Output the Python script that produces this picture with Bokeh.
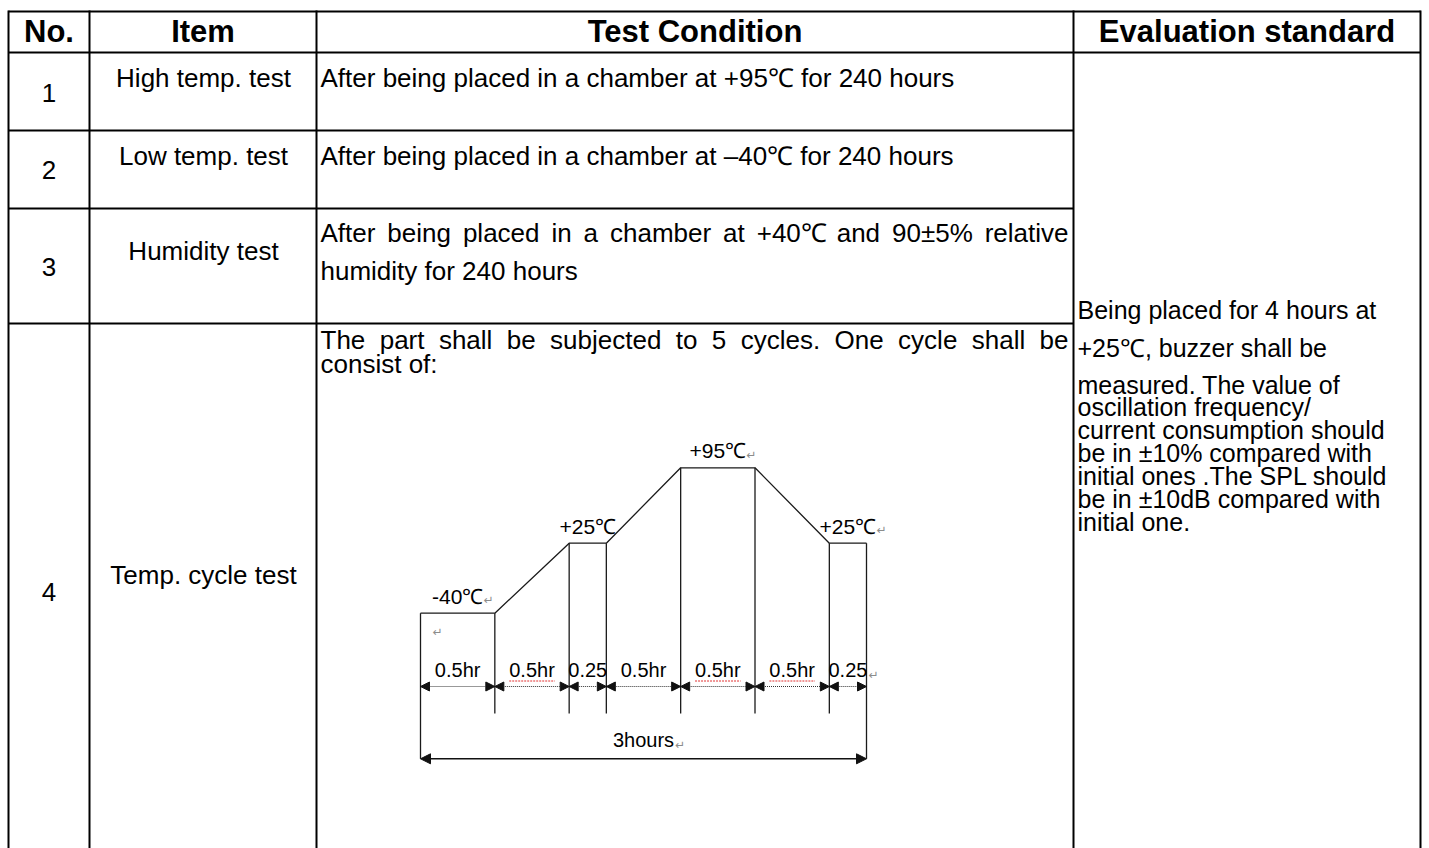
from bokeh.plotting import figure
from bokeh.models import Range1d, ColumnDataSource, Arrow, NormalHead
from bokeh.core.properties import value
from bokeh.embed import file_html
from bokeh.resources import INLINE
import numpy as np

# ---------------- data ----------------
header = ["No.", "Item", "Test Condition", "Evaluation standard"]
test_no = ["1", "2", "3", "4"]
test_items = ["High temp. test", "Low temp. test", "Humidity test", "Temp. cycle test"]
test_conditions = [
    ["After being placed in a chamber at +95℃ for 240 hours"],
    ["After being placed in a chamber at –40℃ for 240 hours"],
    ["After being placed in a chamber at +40℃ and 90±5% relative", "humidity for 240 hours"],
    ["The part shall be subjected to 5 cycles. One cycle shall be", "consist of:"],
]
evaluation_lines = [
    "Being placed for 4 hours at",
    "+25℃, buzzer shall be",
    "measured. The value of",
    "oscillation frequency/",
    "current consumption should",
    "be in ±10% compared with",
    "initial ones .The SPL should",
    "be in ±10dB compared with",
    "initial one.",
]
cycle_step_hours = [0.5, 0.5, 0.25, 0.5, 0.5, 0.5, 0.25]
cycle_step_labels = ["0.5hr", "0.5hr", "0.25", "0.5hr", "0.5hr", "0.5hr", "0.25"]
cycle_step_kind = ["hold", "ramp", "hold", "ramp", "hold", "ramp", "hold"]
cycle_boundary_temp = [-40, -40, 25, 25, 95, 95, 25, 25]
cycle_hold_labels = ["-40℃", "+25℃", "+95℃", "+25℃"]
cycle_total_label = "3hours"
spell_flagged = [False, True, False, False, True, True, False]
# Word paragraph marks visible in the source picture
hold_para_mark = [True, False, True, True]
step_para_mark = [False, False, False, False, False, False, True]

# ---------------- layout ----------------
W, H = 1429, 848
col_x = [8, 89, 316, 1073, 1420]
row_y = [11, 52, 130, 208, 323, 860]
FONT = value("Liberation Sans")
BODY = 26
BODY_PX = f"{BODY}px"
EVAL_PX = "25px"
TB = -1  # text placement correction (page px) for rendered glyph centre

# Arial-compatible advance widths (per 1000 em) for justification
AW = {" ": 278, "!": 278, "%": 889, "+": 584, ",": 278, "-": 333, ".": 278, "/": 278, ":": 278,
      "±": 549, "–": 556, "℃": 920}
for d in "0123456789":
    AW[d] = 556
AW.update(dict(A=667, B=667, C=722, D=722, E=667, F=611, G=778, H=722, I=278, L=556, M=833,
               N=722, O=778, P=667, S=667, T=611))
AW.update(dict(a=556, b=556, c=500, d=556, e=556, f=278, g=556, h=556, i=222, j=222, k=500,
               l=222, m=833, n=556, o=556, p=556, q=556, r=333, s=500, t=278, u=556, v=500,
               w=722, x=500, y=500, z=500))


def text_w(s, size):
    return sum(AW.get(ch, 556) for ch in s) / 1000.0 * size


def ys(lst):
    return [v + TB for v in lst]


p = figure(width=W, height=H, x_range=Range1d(0, W), y_range=Range1d(H, 0),
           output_backend="svg", toolbar_location=None, min_border=0,
           x_axis_location=None, y_axis_location=None)
p.grid.visible = False
p.outline_line_color = None
p.background_fill_color = "white"
p.border_fill_color = "white"

# ---- table rules ----
hx0 = [col_x[0]] * 5
hx1 = [col_x[-1], col_x[-1]] + [col_x[3]] * 3
hy = [row_y[0], row_y[1], row_y[2], row_y[3], row_y[4]]
p.segment(x0=hx0, y0=hy, x1=hx1, y1=hy, line_color="black", line_width=2)
p.segment(x0=col_x, y0=[row_y[0] - 1] * len(col_x), x1=col_x, y1=[row_y[-1]] * len(col_x),
          line_color="black", line_width=2)

# ---- header ----
centers = [(col_x[i] + col_x[i + 1]) / 2 for i in range(4)]
p.text(x=centers, y=ys([32] * 4), text=header, text_font=FONT, text_font_size="31px",
       text_font_style="bold", text_align="center", text_baseline="alphabetic", text_color="black")

# ---- No. and Item columns ----
p.text(x=[48.5] * 4, y=ys([93, 170, 267, 592]), text=test_no, text_font=FONT, text_font_size=BODY_PX,
       text_align="center", text_baseline="alphabetic", text_color="black")
p.text(x=[203] * 4, y=ys([78, 156, 251, 575]), text=test_items, text_font=FONT, text_font_size=BODY_PX,
       text_align="center", text_baseline="alphabetic", text_color="black")

# ---- Test condition column ----
cond_rows = [[78], [156], [233, 271], [340, 364]]
CX0, CX1 = 320, 1068
plain_x, plain_y, plain_t = [], [], []
jl_x, jl_y, jl_t, jr_x, jr_y, jr_t = [], [], [], [], [], []
for lines, bls in zip(test_conditions, cond_rows):
    for k, (ln, bl) in enumerate(zip(lines, bls)):
        bl = bl + TB
        if len(lines) > 1 and k < len(lines) - 1:
            words = ln.split(" ")
            ws = [text_w(w, BODY) for w in words]
            gap = (CX1 - CX0 - sum(ws)) / (len(words) - 1)
            x = CX0
            for j, (wd, wv) in enumerate(zip(words, ws)):
                if j == len(words) - 1:
                    jr_x.append(CX1); jr_y.append(bl); jr_t.append(wd)
                else:
                    jl_x.append(x); jl_y.append(bl); jl_t.append(wd)
                x += wv + gap
        else:
            plain_x.append(CX0); plain_y.append(bl); plain_t.append(ln)
p.text(x=plain_x + jl_x, y=plain_y + jl_y, text=plain_t + jl_t, text_font=FONT,
       text_font_size=BODY_PX, text_align="left", text_baseline="alphabetic", text_color="black")
p.text(x=jr_x, y=jr_y, text=jr_t, text_font=FONT, text_font_size=BODY_PX,
       text_align="right", text_baseline="alphabetic", text_color="black")

# ---- Evaluation column ----
ev_rows = [310, 348, 385, 407, 430, 453, 476, 499, 522]
p.text(x=[1077] * len(evaluation_lines), y=ys(ev_rows), text=evaluation_lines, text_font=FONT,
       text_font_size=EVAL_PX, text_align="left", text_baseline="alphabetic", text_color="black")

# ---------------- cycle diagram (own scales) ----------------
hrs_b = np.concatenate([[0.0], np.cumsum(cycle_step_hours)])
total = float(hrs_b[-1])
DX0, DX1 = 420.0, 866.0           # page x of 0 h and of the total
kx = (DX1 - DX0) / total
p.extra_x_ranges["hrs"] = Range1d(-DX0 / kx, total + (W - DX1) / kx)

tmin, tmax = min(cycle_boundary_temp), max(cycle_boundary_temp)
DY_LO, DY_HI = 612.7, 467.3       # page y of min / max temperature
ky = (DY_LO - DY_HI) / (tmax - tmin)
p.extra_y_ranges["temp"] = Range1d(tmin - (H - DY_LO) / ky, tmax + DY_HI / ky)


def temp_at(py):
    return tmin - (py - DY_LO) / ky


R = dict(x_range_name="hrs", y_range_name="temp")
LC = "#1a1a1a"
DSIZE = 20
DFONT = f"{DSIZE}px"
TSIZE = 21
MARK = dict(text_font=value("DejaVu Sans"), text_font_size="12px", text_color="#8c8c8c",
            text_align="left", text_baseline="alphabetic")

# profile
p.line(x=hrs_b, y=cycle_boundary_temp, line_color=LC, line_width=1.3, **R)
# extension lines
n = len(hrs_b)
bottoms = [temp_at(758.3) if (i == 0 or i == n - 1) else temp_at(713) for i in range(n)]
p.segment(x0=hrs_b, y0=cycle_boundary_temp, x1=hrs_b, y1=bottoms, line_color=LC, line_width=1.3, **R)

# dotted step arrows
y_arr = temp_at(686)
src_steps = ColumnDataSource(dict(x0=hrs_b[:-1], x1=hrs_b[1:], y=[y_arr] * (n - 1)))
head = dict(size=9, fill_color="#111111", line_color="#111111", line_width=1)
p.add_layout(Arrow(x_start="x0", y_start="y", x_end="x1", y_end="y", source=src_steps,
                   line_color="#333333", line_width=1, line_dash="1 1",
                   start=NormalHead(**head), end=NormalHead(**head), **R))
mids = (hrs_b[:-1] + hrs_b[1:]) / 2
y_step_lab = temp_at(670 + TB)
p.text(x=mids, y=[y_step_lab] * (n - 1), text=cycle_step_labels, text_font=FONT,
       text_font_size=DFONT, text_align="center", text_baseline="alphabetic", text_color="#000000", **R)
# spell-check squiggles
fx0, fx1 = [], []
for m, lab, fl in zip(mids, cycle_step_labels, spell_flagged):
    if fl:
        hw = text_w(lab, DSIZE) / 2 / kx
        fx0.append(m - hw); fx1.append(m + hw)
p.segment(x0=fx0, y0=[temp_at(680.5)] * len(fx0), x1=fx1, y1=[temp_at(680.5)] * len(fx0),
          line_color="#e03030", line_width=1, line_dash="2 1", **R)

# hold temperature labels
hold_idx = [i for i, k in enumerate(cycle_step_kind) if k == "hold"]
hold_x = [mids[i] for i in hold_idx]
hold_t = [cycle_boundary_temp[i] for i in hold_idx]
p.text(x=hold_x, y=hold_t, text=cycle_hold_labels, text_font=FONT, text_font_size=f"{TSIZE}px",
       text_align="center", text_baseline="alphabetic", text_color="#000000", y_offset=-17, **R)

# total duration
y_tot = temp_at(758.3)
src_tot = ColumnDataSource(dict(x0=[0.0], x1=[total], y=[y_tot]))
p.add_layout(Arrow(x_start="x0", y_start="y", x_end="x1", y_end="y", source=src_tot,
                   line_color="#111111", line_width=1.5,
                   start=NormalHead(size=10, fill_color="#111111", line_color="#111111"),
                   end=NormalHead(size=10, fill_color="#111111", line_color="#111111"), **R))
y_tot_lab = temp_at(740 + TB)
p.text(x=[total / 2], y=[y_tot_lab], text=[cycle_total_label], text_font=FONT,
       text_font_size=DFONT, text_align="center", text_baseline="alphabetic", text_color="#000000", **R)

# paragraph marks (↵) that show in the source drawing
mx, my, mt = [], [], []
for hx, ht, lab, show in zip(hold_x, hold_t, cycle_hold_labels, hold_para_mark):
    if show:
        mx.append(hx + (text_w(lab, TSIZE) / 2 + 1) / kx)
        my.append(temp_at(DY_LO - (tmin - ht) * 0 - (ht - tmin) * ky - 13))
        mt.append("↵")
for m, lab, show in zip(mids, cycle_step_labels, step_para_mark):
    if show:
        mx.append(m + (text_w(lab, DSIZE) / 2 + 1) / kx)
        my.append(temp_at(674))
        mt.append("↵")
mx.append(total / 2 + (text_w(cycle_total_label, DSIZE) / 2 + 1) / kx)
my.append(temp_at(744))
mt.append("↵")
mx.append(12 / kx)
my.append(temp_at(631))
mt.append("↵")
p.text(x=mx, y=my, text=mt, **MARK, **R)

open("out.html", "w").write(file_html(p, INLINE))
